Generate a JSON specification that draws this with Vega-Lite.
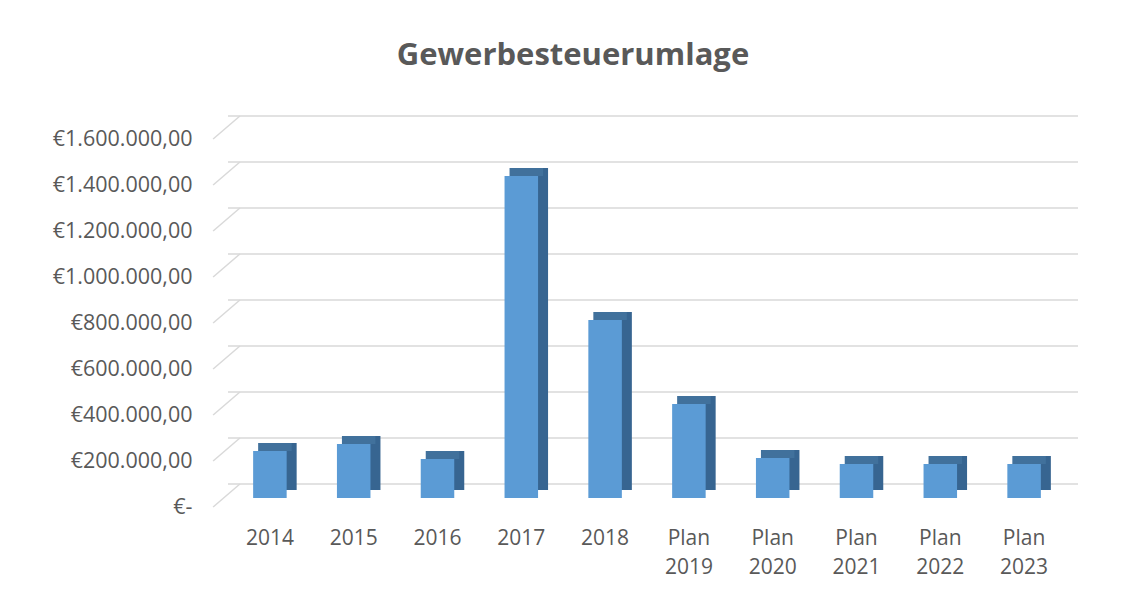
{
  "$schema": "https://vega.github.io/schema/vega-lite/v6.json",
  "width": 838,
  "height": 368,
  "autosize": {"type": "none"},
  "padding": {"left": 228, "top": 130, "right": 64, "bottom": 100},
  "background": "white",
  "config": {
    "locale": {"number": {"decimal": ",", "thousands": ".", "grouping": [3], "currency": ["€", ""]}},
    "view": {"stroke": null},
    "font": "Open Sans",
    "axisY": {"title": null, "grid": false, "ticks": false, "domain": false, "labelPadding": 36, "labelOffset": 9, "labelFontSize": 21.5, "labelColor": "#595959", "labelFont": "Open Sans"},
    "axisX": {"title": null, "grid": false, "ticks": false, "domain": false, "labelPadding": 29, "labelFontSize": 21, "labelColor": "#595959", "labelFont": "Open Sans", "labelAngle": 0, "labelLineHeight": 29}
  },
  "title": {"text": "Gewerbesteuerumlage", "fontSize": 31, "fontWeight": "bold", "color": "#595959", "font": "Open Sans", "offset": 43, "anchor": "middle", "frame": "group", "dx": -74},
  "datasets": {
    "bars": [
      {"year": "2014", "value": 204000},
      {"year": "2015", "value": 235000},
      {"year": "2016", "value": 170000},
      {"year": "2017", "value": 1400000},
      {"year": "2018", "value": 774000},
      {"year": "Plan 2019", "value": 409000},
      {"year": "Plan 2020", "value": 174000},
      {"year": "Plan 2021", "value": 148000},
      {"year": "Plan 2022", "value": 148000},
      {"year": "Plan 2023", "value": 148000}
    ],
    "ticks": [
      {"v": 0}, {"v": 200000}, {"v": 400000}, {"v": 600000}, {"v": 800000},
      {"v": 1000000}, {"v": 1200000}, {"v": 1400000}, {"v": 1600000}
    ]
  },
  "layer": [
    {
      "data": {"name": "ticks"},
      "mark": {"type": "rule", "color": "#d9d9d9", "strokeWidth": 1.5, "yOffset": -14, "xOffset": 12, "x2Offset": 19},
      "encoding": {
        "y": {"field": "v", "type": "quantitative", "scale": {"domain": [0, 1600000], "nice": false},
          "axis": {"values": [0, 200000, 400000, 600000, 800000, 1000000, 1200000, 1400000, 1600000], "format": "$,.2f", "labelExpr": "datum.value == 0 ? '€-' : datum.label"}}
      }
    },
    {
      "data": {"name": "ticks"},
      "mark": {"type": "rule", "color": "#d9d9d9", "strokeWidth": 1.5, "xOffset": -40, "x2Offset": -30, "yOffset": 9, "y2Offset": -14},
      "encoding": {
        "x": {"datum": "2014", "type": "nominal", "bandPosition": 0},
        "x2": {"datum": "2014"},
        "y": {"field": "v", "type": "quantitative"},
        "y2": {"field": "v"}
      }
    },
    {
      "data": {"name": "bars"},
      "mark": {"type": "bar", "color": "#376591", "xOffset": 10, "x2Offset": 10, "yOffset": -8, "y2Offset": -8},
      "encoding": {
        "x": {"field": "year", "type": "nominal", "scale": {"paddingInner": 0.6, "paddingOuter": 0.3},
          "axis": {"labelExpr": "split(datum.label, ' ')"}},
        "y": {"field": "value", "type": "quantitative"}
      }
    },
    {
      "data": {"name": "bars"},
      "mark": {"type": "bar", "color": "#41719c", "xOffset": 5, "x2Offset": 5, "yOffset": -8},
      "encoding": {
        "x": {"field": "year", "type": "nominal"},
        "y": {"field": "value", "type": "quantitative"},
        "y2": {"field": "value"}
      }
    },
    {
      "data": {"name": "bars"},
      "mark": {"type": "bar", "color": "#5b9bd5"},
      "encoding": {
        "x": {"field": "year", "type": "nominal"},
        "y": {"field": "value", "type": "quantitative"}
      }
    }
  ]
}
